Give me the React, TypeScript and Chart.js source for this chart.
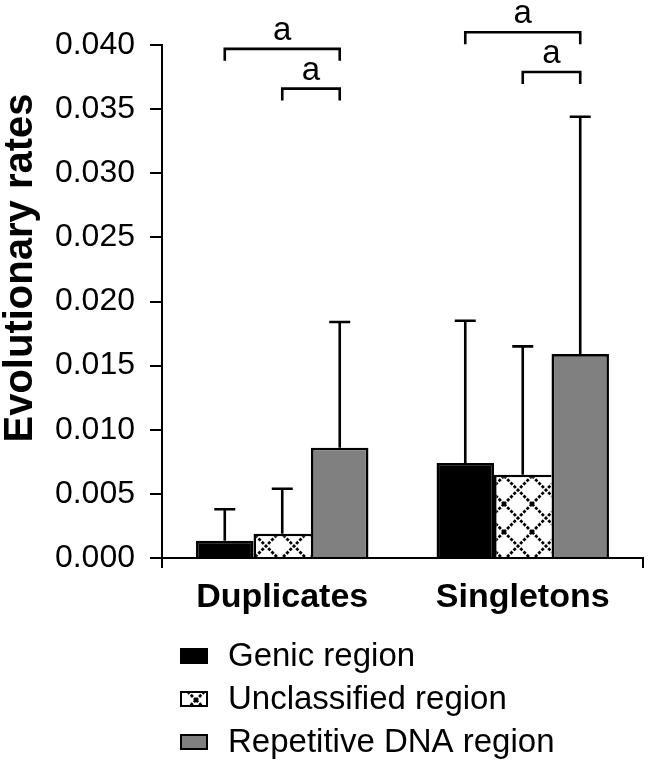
import { useEffect, useRef } from 'react';
import { Chart, registerables } from 'chart.js';

Chart.register(...registerables);

// ---- data ----
const categories = ['Duplicates', 'Singletons'];
const seriesNames = ['Genic region', 'Unclassified region', 'Repetitive DNA region'];
const genicMean = [0.00135, 0.0074];
const unclassifiedMean = [0.0019, 0.0065];
const repetitiveMean = [0.0086, 0.0159];
const genicErr = [0.00245, 0.0111];
const unclassifiedErr = [0.0035, 0.01];
const repetitiveErr = [0.0098, 0.0185];
const yTicks = [0, 0.005, 0.01, 0.015, 0.02, 0.025, 0.03, 0.035, 0.04];
const yTitle = 'Evolutionary rates';
// significance brackets: category index, from-series, to-series, level, label
const bracketCategory = [0, 0, 1, 1];
const bracketFrom = [0, 1, 0, 1];
const bracketTo = [2, 2, 2, 2];
const bracketLevel = [0.0397, 0.0366, 0.041, 0.0379];
const bracketLabel = ['a', 'a', 'a', 'a'];

const FONT = '"Liberation Sans", Arial, Helvetica, sans-serif';

function makeLattice(): CanvasPattern | string {
  const s = 28;
  const c = document.createElement('canvas');
  c.width = s;
  c.height = s;
  const g = c.getContext('2d');
  if (!g) return '#fff';
  g.fillStyle = '#fff';
  g.fillRect(0, 0, s, s);
  g.strokeStyle = '#000';
  g.lineWidth = 2.8;
  g.setLineDash([3, 1.6]);
  g.beginPath();
  for (const o of [-s, 0, s]) {
    g.moveTo(o, 0);
    g.lineTo(o + s, s);
    g.moveTo(o + s, 0);
    g.lineTo(o, s);
  }
  g.stroke();
  const p = g.createPattern(c, 'repeat');
  return p || '#fff';
}

const errorBarPlugin = {
  id: 'errorBars',
  afterDatasetsDraw(chart: any) {
    const ctx = chart.ctx;
    const y = chart.scales.y;
    chart.data.datasets.forEach((ds: any, di: number) => {
      const meta = chart.getDatasetMeta(di);
      meta.data.forEach((bar: any, i: number) => {
        const top = y.getPixelForValue(ds.data[i] + ds.errors[i]);
        ctx.save();
        ctx.strokeStyle = '#000';
        ctx.lineWidth = 2.6;
        ctx.beginPath();
        ctx.moveTo(bar.x, bar.y);
        ctx.lineTo(bar.x, top);
        ctx.moveTo(bar.x - 10.5, top);
        ctx.lineTo(bar.x + 10.5, top);
        ctx.stroke();
        ctx.restore();
      });
    });
  },
};

const annotationPlugin = {
  id: 'annotations',
  afterDraw(chart: any) {
    const ctx = chart.ctx;
    const y = chart.scales.y;
    // brackets
    bracketLevel.forEach((lvl, k) => {
      const x1 = chart.getDatasetMeta(bracketFrom[k]).data[bracketCategory[k]].x;
      const x2 = chart.getDatasetMeta(bracketTo[k]).data[bracketCategory[k]].x;
      const yp = y.getPixelForValue(lvl);
      ctx.save();
      ctx.strokeStyle = '#000';
      ctx.lineWidth = 2.6;
      ctx.beginPath();
      ctx.moveTo(x1, yp + 12);
      ctx.lineTo(x1, yp);
      ctx.lineTo(x2, yp);
      ctx.lineTo(x2, yp + 12);
      ctx.stroke();
      ctx.fillStyle = '#000';
      ctx.font = `33px ${FONT}`;
      ctx.textAlign = 'center';
      ctx.textBaseline = 'alphabetic';
      ctx.fillText(bracketLabel[k], (x1 + x2) / 2, yp - 9);
      ctx.restore();
    });
    // y title
    ctx.save();
    ctx.translate(21, 268);
    ctx.rotate(-Math.PI / 2);
    ctx.fillStyle = '#000';
    ctx.font = `bold 40px ${FONT}`;
    ctx.textAlign = 'center';
    ctx.textBaseline = 'middle';
    ctx.fillText(yTitle, 0, 0);
    ctx.restore();
    // legend
    const rows = [656, 699, 742];
    chart.data.datasets.forEach((ds: any, di: number) => {
      const cy = rows[di];
      ctx.save();
      ctx.fillStyle = ds.backgroundColor;
      ctx.fillRect(180, cy - 8, 28, 16);
      ctx.strokeStyle = '#000';
      ctx.lineWidth = 2;
      ctx.strokeRect(181, cy - 7, 26, 14);
      ctx.fillStyle = '#000';
      ctx.font = `33px ${FONT}`;
      ctx.textAlign = 'left';
      ctx.textBaseline = 'middle';
      ctx.fillText(ds.label, 228, cy + 1);
      ctx.restore();
    });
  },
};

export default function App() {
  const ref = useRef<HTMLCanvasElement | null>(null);

  useEffect(() => {
    if (!ref.current) return;
    const lattice = makeLattice();
    const chart = new Chart(ref.current, {
      type: 'bar',
      data: {
        labels: categories,
        datasets: [
          {
            label: seriesNames[0],
            data: genicMean,
            errors: genicErr,
            backgroundColor: '#000000',
            borderColor: '#000000',
            borderWidth: 2.6,
          } as any,
          {
            label: seriesNames[1],
            data: unclassifiedMean,
            errors: unclassifiedErr,
            backgroundColor: lattice,
            borderColor: '#000000',
            borderWidth: { top: 2.6, left: 2.6, right: 0, bottom: 0 },
          } as any,
          {
            label: seriesNames[2],
            data: repetitiveMean,
            errors: repetitiveErr,
            backgroundColor: '#808080',
            borderColor: '#000000',
            borderWidth: 2.6,
          } as any,
        ],
      },
      options: {
        animation: false,
        responsive: false,
        devicePixelRatio: 1,
        datasets: { bar: { categoryPercentage: 0.717, barPercentage: 1 } },
        layout: { padding: { top: 45, right: 5, bottom: 148, left: 0 } },
        plugins: { legend: { display: false }, tooltip: { enabled: false } },
        scales: {
          x: {
            type: 'category',
            offset: true,
            grid: {
              offset: true,
              drawOnChartArea: false,
              drawTicks: true,
              tickLength: 10,
              lineWidth: 2,
              color: (c: any) => (c.index === 1 ? 'rgba(0,0,0,0)' : '#000'),
            },
            border: { color: '#000', width: 2 },
            ticks: {
              color: '#000',
              padding: 9,
              maxRotation: 0,
              font: { family: FONT, size: 34, weight: 'bold' },
            },
            afterFit: (s: any) => {
              s.height = 60;
            },
          },
          y: {
            min: 0,
            max: 0.04,
            afterBuildTicks: (s: any) => {
              s.ticks = yTicks.map((v) => ({ value: v }));
            },
            ticks: {
              color: '#000',
              padding: 15,
              font: { family: FONT, size: 32 },
              callback: (v: any) => Number(v).toFixed(3),
            },
            grid: { drawOnChartArea: false, tickLength: 12, lineWidth: 2, color: '#000' },
            border: { color: '#000', width: 2 },
            afterFit: (s: any) => {
              s.width = 162;
            },
          },
        },
      } as any,
      plugins: [errorBarPlugin, annotationPlugin],
    });
    return () => chart.destroy();
  }, []);

  return (
    <div style={{ position: 'absolute', left: 0, top: 0, width: 648, height: 766, background: '#fff' }}>
      <canvas ref={ref} width={648} height={766} style={{ display: 'block' }} />
    </div>
  );
}
